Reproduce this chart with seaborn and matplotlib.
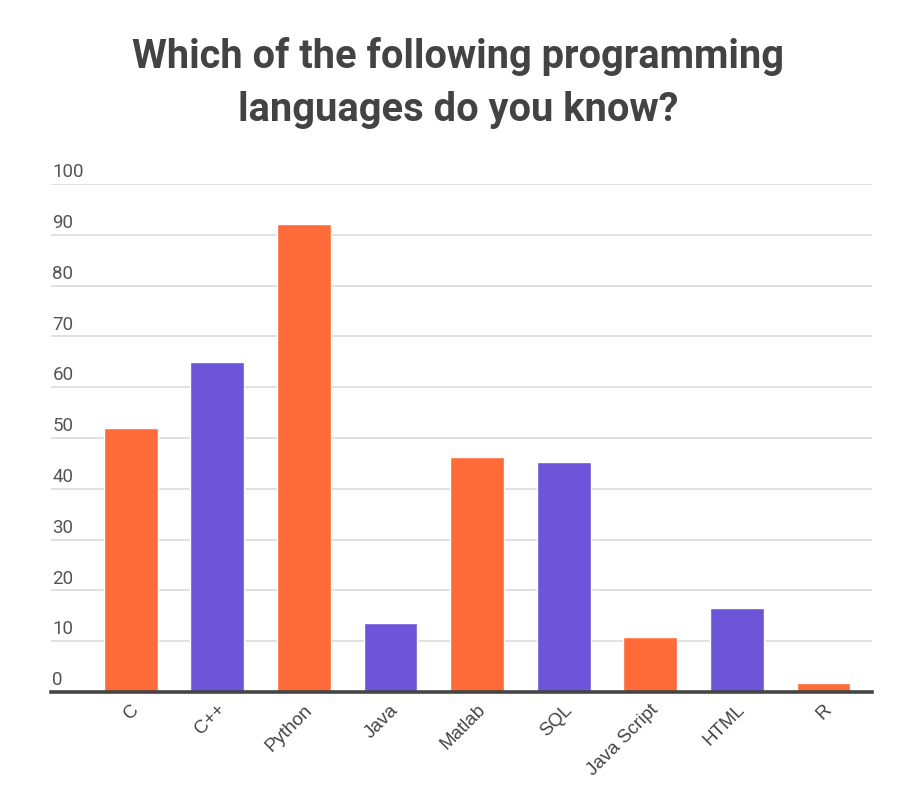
import matplotlib
matplotlib.use("Agg")
import matplotlib.pyplot as plt
import matplotlib.transforms as mtransforms
import seaborn as sns
import pandas as pd

languages = ["C", "C++", "Python", "Java", "Matlab", "SQL", "Java Script", "HTML", "R"]
percent = [52.0, 65.0, 92.1, 13.6, 46.3, 45.3, 10.8, 16.5, 1.8]
bar_colors = ["#FF6A39", "#6C55D9", "#FF6A39", "#6C55D9", "#FF6A39",
              "#6C55D9", "#FF6A39", "#6C55D9", "#FF6A39"]
y_ticks = [0, 10, 20, 30, 40, 50, 60, 70, 80, 90, 100]
title = "Which of the following programming\nlanguages do you know?"

sns.set_theme(style="white")
plt.rcParams["font.family"] = ["Roboto", "DejaVu Sans"]

df = pd.DataFrame({"language": languages, "percent": percent})

fig = plt.figure(figsize=(9.16, 7.98), dpi=100)
ax = fig.add_axes([51 / 916, 106 / 798, (872 - 51) / 916, (692 - 184) / 798])

sns.barplot(data=df, x="language", y="percent", hue="language",
            palette=bar_colors, legend=False, width=0.62, ax=ax,
            saturation=1, zorder=3)

ax.set_ylim(0, 100)
ax.set_xlim(-0.92, 8.56)
ax.set_yticks(y_ticks)
ax.yaxis.grid(True, color="#dedede", linewidth=1.3, zorder=0)
ax.xaxis.grid(False)
for s in ["top", "right", "left"]:
    ax.spines[s].set_visible(False)
ax.spines["bottom"].set_color("#444444")
ax.spines["bottom"].set_linewidth(2.6)
ax.spines["bottom"].set_zorder(5)
ax.set_xlabel("")
ax.set_ylabel("")

ax.tick_params(axis="y", length=0, pad=-1, labelsize=13.5, labelcolor="#555555")
ax.tick_params(axis="x", length=0, pad=11, labelsize=13.5, labelcolor="#444444")

off = mtransforms.ScaledTranslation(0, 2 / 72, fig.dpi_scale_trans)
for lab in ax.get_yticklabels():
    lab.set_horizontalalignment("left")
    lab.set_verticalalignment("bottom")
    lab.set_transform(lab.get_transform() + off)

xoff = mtransforms.ScaledTranslation(4 / 72, 0, fig.dpi_scale_trans)
for lab in ax.get_xticklabels():
    lab.set_rotation(45)
    lab.set_horizontalalignment("right")
    lab.set_verticalalignment("center")
    lab.set_rotation_mode("anchor")
    lab.set_fontfamily(["Liberation Sans", "DejaVu Sans"])
    lab.set_transform(lab.get_transform() + xoff)

fig.text(0.5, 1 - 83 / 798, title, ha="center", va="center", fontsize=28.7,
         fontweight="bold", color="#434343", linespacing=1.5)

fig.savefig("out.png", dpi=100, facecolor="white")
